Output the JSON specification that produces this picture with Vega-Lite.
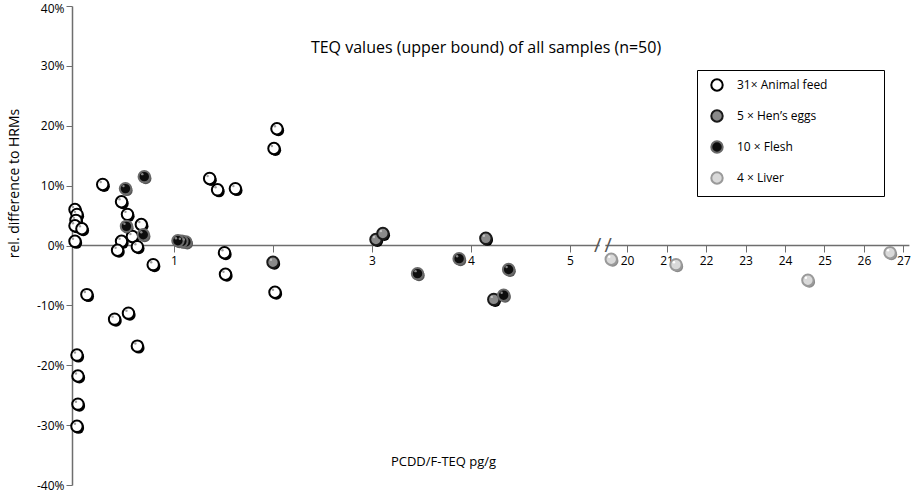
{
  "$schema": "https://vega.github.io/schema/vega-lite/v6.json",
  "width": 838,
  "height": 479,
  "autosize": "none",
  "padding": {"left": 72, "top": 6, "right": 10, "bottom": 8},
  "background": "white",
  "title": {"text": "TEQ values (upper bound) of all samples (n=50)", "offset": -54, "dx": -5, "fontSize": 16, "fontWeight": "normal", "font": "Open Sans", "color": "black"},
  "config": {"view": {"stroke": null}, "font": "Open Sans"},
  "data": {"values": [
    {"x": 0.00, "y": 6.0, "group": "Animal feed"},
    {"x": 0.02, "y": 5.2, "group": "Animal feed"},
    {"x": 0.01, "y": 4.2, "group": "Animal feed"},
    {"x": 0.00, "y": 3.3, "group": "Animal feed"},
    {"x": 0.07, "y": 2.8, "group": "Animal feed"},
    {"x": 0.00, "y": 0.7, "group": "Animal feed"},
    {"x": 0.02, "y": -18.3, "group": "Animal feed"},
    {"x": 0.03, "y": -21.8, "group": "Animal feed"},
    {"x": 0.03, "y": -26.5, "group": "Animal feed"},
    {"x": 0.02, "y": -30.2, "group": "Animal feed"},
    {"x": 0.12, "y": -8.2, "group": "Animal feed"},
    {"x": 0.28, "y": 10.2, "group": "Animal feed"},
    {"x": 0.47, "y": 7.3, "group": "Animal feed"},
    {"x": 0.53, "y": 5.2, "group": "Animal feed"},
    {"x": 0.67, "y": 3.5, "group": "Animal feed"},
    {"x": 0.58, "y": 1.5, "group": "Animal feed"},
    {"x": 0.47, "y": 0.7, "group": "Animal feed"},
    {"x": 0.43, "y": -0.8, "group": "Animal feed"},
    {"x": 0.63, "y": -0.2, "group": "Animal feed"},
    {"x": 0.79, "y": -3.2, "group": "Animal feed"},
    {"x": 0.40, "y": -12.3, "group": "Animal feed"},
    {"x": 0.54, "y": -11.3, "group": "Animal feed"},
    {"x": 0.63, "y": -16.8, "group": "Animal feed"},
    {"x": 1.36, "y": 11.2, "group": "Animal feed"},
    {"x": 1.44, "y": 9.3, "group": "Animal feed"},
    {"x": 1.62, "y": 9.5, "group": "Animal feed"},
    {"x": 1.51, "y": -1.2, "group": "Animal feed"},
    {"x": 1.52, "y": -4.8, "group": "Animal feed"},
    {"x": 2.01, "y": 16.2, "group": "Animal feed"},
    {"x": 2.04, "y": 19.5, "group": "Animal feed"},
    {"x": 2.02, "y": -7.8, "group": "Animal feed"},
    {"x": 2.00, "y": -2.8, "group": "Hen's eggs"},
    {"x": 3.04, "y": 1.0, "group": "Hen's eggs"},
    {"x": 3.11, "y": 2.0, "group": "Hen's eggs"},
    {"x": 4.15, "y": 1.2, "group": "Hen's eggs"},
    {"x": 4.23, "y": -9.0, "group": "Hen's eggs"},
    {"x": 0.70, "y": 11.5, "group": "Flesh"},
    {"x": 0.51, "y": 9.5, "group": "Flesh"},
    {"x": 0.52, "y": 3.2, "group": "Flesh"},
    {"x": 0.69, "y": 1.8, "group": "Flesh"},
    {"x": 1.12, "y": 0.6, "group": "Flesh"},
    {"x": 1.08, "y": 0.7, "group": "Flesh"},
    {"x": 1.04, "y": 0.8, "group": "Flesh"},
    {"x": 3.46, "y": -4.7, "group": "Flesh"},
    {"x": 3.88, "y": -2.2, "group": "Flesh"},
    {"x": 4.38, "y": -4.0, "group": "Flesh"},
    {"x": 4.33, "y": -8.3, "group": "Flesh"},
    {"x": 19.6, "y": -2.3, "group": "Liver"},
    {"x": 21.24, "y": -3.2, "group": "Liver"},
    {"x": 24.58, "y": -5.8, "group": "Liver"},
    {"x": 26.66, "y": -1.2, "group": "Liver"}
  ]},
  "layer": [
    {
      "data": {"values": [{}]},
      "mark": {"type": "rule", "color": "#6e6e6e", "strokeWidth": 1.5},
      "encoding": {
        "x": {"datum": -0.03, "type": "quantitative"},
        "x2": {"datum": 5.3},
        "y": {"datum": 0, "type": "quantitative"}
      }
    },
    {
      "data": {"values": [{}]},
      "mark": {"type": "rule", "color": "#6e6e6e", "strokeWidth": 1.5},
      "encoding": {
        "x": {"datum": 19.45, "type": "quantitative"},
        "x2": {"datum": 27.15},
        "y": {"datum": 0, "type": "quantitative"}
      }
    },
    {
      "data": {"values": [{}]},
      "mark": {"type": "text", "text": "/", "fontSize": 20, "color": "#555555", "baseline": "middle", "align": "center", "font": "Open Sans"},
      "encoding": {
        "x": {"datum": 5.28, "type": "quantitative"},
        "y": {"datum": 0, "type": "quantitative"}
      }
    },
    {
      "data": {"values": [{}]},
      "mark": {"type": "text", "text": "/", "fontSize": 20, "color": "#555555", "baseline": "middle", "align": "center", "font": "Open Sans"},
      "encoding": {
        "x": {"datum": 19.52, "type": "quantitative"},
        "y": {"datum": 0, "type": "quantitative"}
      }
    },
    {
      "mark": {"type": "circle", "size": 130, "xOffset": 1.5, "yOffset": 1.8, "opacity": 1},
      "encoding": {
        "x": {"field": "x", "type": "quantitative"},
        "y": {"field": "y", "type": "quantitative"},
        "fill": {"condition": [{"test": "datum.group === 'Liver'", "value": "#8a8a8a"}, {"test": "datum.group === 'Flesh'", "value": "#555555"}], "value": "#000000"}
      }
    },
    {
      "mark": {"type": "circle", "size": 130, "strokeWidth": 2, "opacity": 1},
      "encoding": {
        "x": {
          "field": "x", "type": "quantitative",
          "scale": {"domain": [-0.03, 5.3, 19.45, 27.15], "range": [0, 527.7, 533.3, 837.4], "nice": false, "zero": false},
          "axis": {"values": [1, 2, 3, 4, 5, 20, 21, 22, 23, 24, 25, 26, 27], "domain": false, "grid": false, "offset": -240, "tickColor": "#6e6e6e", "tickSize": 7, "labelFontSize": 12, "labelColor": "black", "labelPadding": 3, "labelFlush": false, "labelOverlap": false, "title": "PCDD/F-TEQ pg/g", "titleFontSize": 13, "titleFontWeight": "normal", "titleColor": "black", "titlePadding": 189, "titleX": 371, "titleAlign": "center", "titleAnchor": null}
        },
        "y": {
          "field": "y", "type": "quantitative",
          "scale": {"domain": [-40, 40], "nice": false, "zero": false},
          "axis": {"values": [-40, -30, -20, -10, 0, 10, 20, 30, 40], "labelExpr": "datum.value + '%'", "labelOffset": {"condition": {"test": "datum.value == 40", "value": 2}, "value": 0}, "grid": false, "domainColor": "#6e6e6e", "domainWidth": 1.5, "tickColor": "#6e6e6e", "tickSize": 6, "labelFontSize": 12, "labelColor": "black", "title": "rel. difference to HRMs", "titleFontSize": 14, "titleFontWeight": "normal", "titleColor": "black", "titleY": 177, "titlePadding": 15}
        },
        "fill": {
          "field": "group", "type": "nominal",
          "scale": {"domain": ["Animal feed", "Hen's eggs", "Flesh", "Liver"], "range": ["#ffffff", "#8a8a8a", "#0d0d0d", "#d9d9d9"]},
          "legend": {"title": null, "orient": "none", "legendX": 625, "legendY": 64, "strokeColor": "black", "fillColor": "white", "padding": 8, "rowPadding": 11, "symbolOffset": 5, "labelOffset": 13, "labelFontSize": 12, "labelLimit": 300, "labelColor": "black", "symbolSize": 130, "symbolStrokeWidth": 2, "labelExpr": "datum.label === 'Animal feed' ? '31× Animal feed\u2003\u2003\u2003\u2003\u200b' : datum.label === \"Hen's eggs\" ? '5 × Hen’s eggs' : datum.label === 'Flesh' ? '10 × Flesh' : '4 × Liver'"}
        },
        "stroke": {
          "field": "group", "type": "nominal",
          "scale": {"domain": ["Animal feed", "Hen's eggs", "Flesh", "Liver"], "range": ["#000000", "#1a1a1a", "#6a6a6a", "#9a9a9a"]},
          "legend": {"title": null, "orient": "none", "legendX": 625, "legendY": 64, "strokeColor": "black", "fillColor": "white", "padding": 8, "rowPadding": 11, "symbolOffset": 5, "labelOffset": 13, "labelFontSize": 12, "labelLimit": 300, "labelColor": "black", "symbolSize": 130, "symbolStrokeWidth": 2, "labelExpr": "datum.label === 'Animal feed' ? '31× Animal feed\u2003\u2003\u2003\u2003\u200b' : datum.label === \"Hen's eggs\" ? '5 × Hen’s eggs' : datum.label === 'Flesh' ? '10 × Flesh' : '4 × Liver'"}
        }
      }
    },
    {
      "mark": {"type": "circle", "size": 6, "xOffset": -2, "yOffset": -2.5, "opacity": 1},
      "encoding": {
        "x": {"field": "x", "type": "quantitative"},
        "y": {"field": "y", "type": "quantitative"},
        "fill": {"condition": [{"test": "datum.group === 'Liver'", "value": "#ffffff"}, {"test": "datum.group === 'Flesh'", "value": "#888888"}, {"test": "datum.group === \"Hen's eggs\"", "value": "#c0c0c0"}], "value": "#a0a0a0"}
      }
    }
  ]
}
